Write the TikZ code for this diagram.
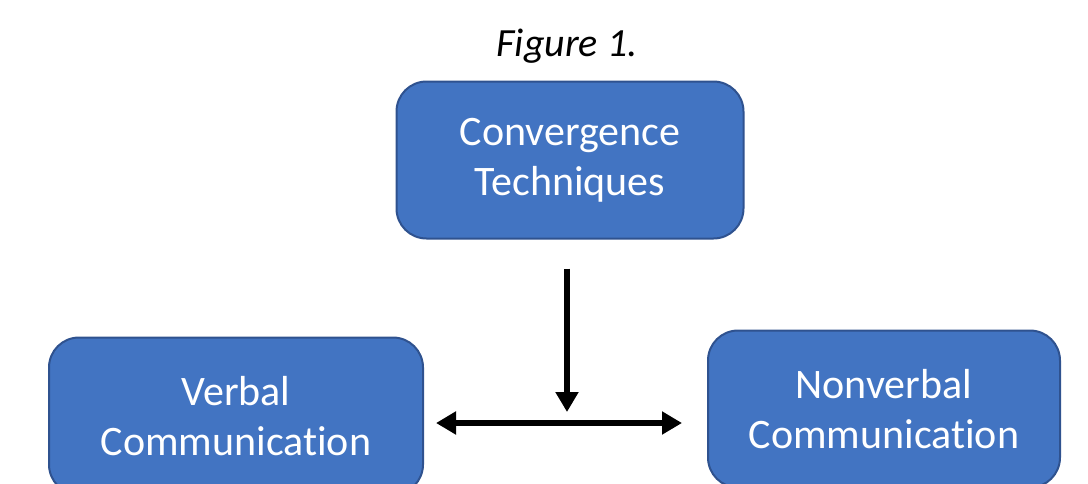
\documentclass[tikz,border=0pt]{standalone}
\usepackage{fontspec}
\setmainfont{Carlito}[Ligatures=NoCommon]
\usetikzlibrary{arrows.meta,positioning}
\definecolor{boxfill}{RGB}{66,116,194}
\definecolor{boxline}{RGB}{47,82,143}

\begin{document}
\begin{tikzpicture}[x=0.5pt,y=-0.5pt,>={Triangle[length=10pt,width=11pt]}]
        \tikzstyle{topic}=[rectangle,rounded corners=15pt,draw=boxline,line width=1pt,fill=boxfill,text=white,align=center,minimum height=78.5pt,font=\fontsize{21}{25}\selectfont]
        \tikzstyle{link}=[line width=2.6pt,black]

        \useasboundingbox (0,0) rectangle (1088,483);
        \node (fig) at (567,46) {\fontsize{20}{24}\selectfont\itshape Figure 1.}; %caption
        \node [topic, minimum width=173.5pt] (conv) at (570,160) {Convergence\\Techniques};
        \node [topic, minimum width=187pt] (verbal) at (236,416) {Verbal\\Communication};
        \node [topic, minimum width=176pt] (nonverbal) at (884,409) {Nonverbal\\Communication};

        \coordinate (meet) at (567,423); %where the arrows meet
        \draw [link,->,shorten <=14.5pt,shorten >=5.5pt] (meet |- conv.south) -- (meet);
        \draw [link,<->,shorten <=6pt,shorten >=12.5pt] (verbal.east |- meet) -- (nonverbal.west |- meet);
    \end{tikzpicture}
\end{document}
